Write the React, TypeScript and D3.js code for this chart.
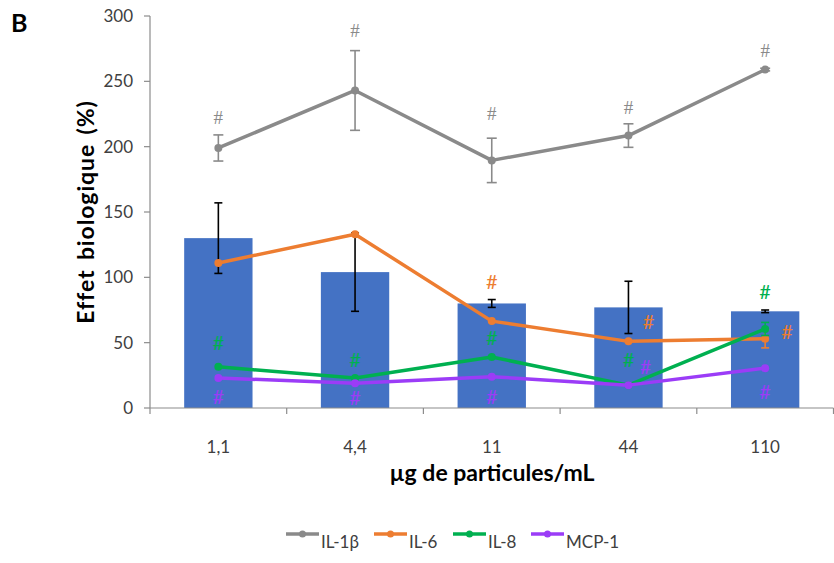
import React from "react";
import * as d3 from "d3";

const categories = ["1,1", "4,4", "11", "44", "110"];
const barValues = [130, 104, 80, 77, 74];
const barErrors = [27, 30, 3, 20, 1];

const seriesNames = ["IL-1β", "IL-6", "IL-8", "MCP-1"];
const seriesColors = ["#8a8a8a", "#ED7D31", "#00B050", "#9B3CF7"];
const il1bValues = [199, 243, 189.5, 208.5, 259];
const il1bErrors = [10, 30.5, 17, 9, 1];
const il6Values = [111, 133, 66.5, 51, 53];
const il6Errors = [0, 0, 0, 0, 7];
const il8Values = [31.5, 23, 39, 17.5, 60.5];
const il8Errors = [0, 0, 0, 0, 5];
const mcp1Values = [23, 19, 24, 17.5, 30.5];
const mcp1Errors = [0, 0, 0, 0, 0];

const yTicks = [0, 50, 100, 150, 200, 250, 300];

// significance marks: series index, category index, vertical value position, horizontal shift (px)
const hashSeries = [0, 0, 0, 0, 0, 1, 1, 1, 2, 2, 2, 2, 2, 3, 3, 3, 3, 3];
const hashCat = [0, 1, 2, 3, 4, 2, 3, 4, 0, 1, 2, 3, 4, 0, 1, 2, 3, 4];
const hashValue = [222.8, 289, 225.5, 230, 274, 96.6, 66, 58.4, 49.7, 36.7, 53.6, 36.7, 89, 8.6, 7.7, 8.6, 31.6, 12.5];
const hashShift = [0, 0, 0, 0, 0, 0, 20, 22, 0, 0, 0, 0, 0, 0, 0, 0, 17, 0];

const W = 834;
const H = 563;
const FONT = "Lato, 'Open Sans', sans-serif";

export default function App() {
  const x = d3
    .scaleBand<string>()
    .domain(categories)
    .range([150, 833.5])
    .paddingInner(0.5)
    .paddingOuter(0.25);
  const y = d3.scaleLinear().domain([0, 300]).range([408, 16]);
  const cx = (i: number) => (x(categories[i]) as number) + x.bandwidth() / 2;
  const step = x.step();
  const boundaries = d3.range(categories.length + 1).map((k) => 150 + k * step);

  const series = [
    { values: il1bValues, errors: il1bErrors },
    { values: il6Values, errors: il6Errors },
    { values: il8Values, errors: il8Errors },
    { values: mcp1Values, errors: mcp1Errors },
  ];
  const line = d3
    .line<number>()
    .x((_, i) => cx(i))
    .y((v) => y(v));

  const axisColor = "#8c8c8c";

  return (
    <svg
      width={W}
      height={H}
      style={{ position: "absolute", left: 0, top: 0, background: "#fff" }}
      fontFamily={FONT}
    >
      <rect width={W} height={H} fill="#fff" />
      <text x={11} y={32} fontSize={25} fontWeight="bold" fill="#000">
        B
      </text>

      {/* bars */}
      {barValues.map((v, i) => (
        <rect
          key={"b" + i}
          x={x(categories[i])}
          y={y(v)}
          width={x.bandwidth()}
          height={y(0) - y(v)}
          fill="#4472C4"
        />
      ))}
      {barValues.map((v, i) => {
        const e = barErrors[i];
        const c = cx(i);
        return (
          <g key={"be" + i} stroke="#000" strokeWidth={1.6}>
            <line x1={c} x2={c} y1={y(v + e)} y2={y(v - e)} />
            <line x1={c - 4} x2={c + 4} y1={y(v + e)} y2={y(v + e)} />
            <line x1={c - 4} x2={c + 4} y1={y(v - e)} y2={y(v - e)} />
          </g>
        );
      })}

      {/* axes */}
      <line x1={150} x2={150} y1={y(300)} y2={y(0)} stroke={axisColor} strokeWidth={1.2} />
      {yTicks.map((t) => (
        <g key={"yt" + t}>
          <line x1={144} x2={150} y1={y(t)} y2={y(t)} stroke={axisColor} strokeWidth={1.2} />
          <text
            x={133}
            y={y(t)}
            dy="0.35em"
            textAnchor="end"
            fontSize={17}
            fill="#404040"
          >
            {t}
          </text>
        </g>
      ))}
      <line x1={150} x2={833.5} y1={y(0)} y2={y(0)} stroke={axisColor} strokeWidth={1.2} />
      {boundaries.map((b, k) => (
        <line key={"xt" + k} x1={b} x2={b} y1={y(0)} y2={y(0) + 6} stroke={axisColor} strokeWidth={1.2} />
      ))}
      {categories.map((c, i) => (
        <text key={"xl" + i} x={cx(i)} y={453} textAnchor="middle" fontSize={17} fill="#404040">
          {c}
        </text>
      ))}
      <text x={492} y={481} textAnchor="middle" fontSize={23} fontWeight="bold" fill="#000">
        µg de particules/mL
      </text>
      <text
        transform={`translate(94,212) rotate(-90)`}
        textAnchor="middle"
        fontSize={23}
        letterSpacing={0.9}
        wordSpacing={3}
        fontWeight="bold"
        fill="#000"
      >
        Effet biologique (%)
      </text>

      {/* lines */}
      {series.map((s, si) => {
        const col = seriesColors[si];
        const cap = si === 0 ? 5 : 4;
        return (
          <g key={"s" + si}>
            {s.values.map((v, i) => {
              const e = s.errors[i];
              if (!e) return null;
              const c = cx(i);
              return (
                <g key={"e" + i} stroke={col} strokeWidth={1.6}>
                  <line x1={c} x2={c} y1={y(v + e)} y2={y(v - e)} />
                  <line x1={c - cap} x2={c + cap} y1={y(v + e)} y2={y(v + e)} />
                  <line x1={c - cap} x2={c + cap} y1={y(v - e)} y2={y(v - e)} />
                </g>
              );
            })}
            <path d={line(s.values) as string} fill="none" stroke={col} strokeWidth={3.5} strokeLinejoin="round" />
            {s.values.map((v, i) => (
              <circle key={"m" + i} cx={cx(i)} cy={y(v)} r={4} fill={col} />
            ))}
          </g>
        );
      })}

      {/* significance marks */}
      {hashValue.map((v, k) => {
        const si = hashSeries[k];
        const gray = si === 0;
        return (
          <text
            key={"h" + k}
            x={cx(hashCat[k]) + hashShift[k]}
            y={y(v)}
            dy="0.35em"
            textAnchor="middle"
            fontSize={gray ? 19 : 20}
            fontFamily={gray ? "'Liberation Serif', serif" : FONT}
            fill={seriesColors[si]}
          >
            #
          </text>
        );
      })}

      {/* legend */}
      {seriesNames.map((n, i) => {
        const starts = [286, 374, 453, 531];
        const lx = starts[i];
        return (
          <g key={"lg" + i}>
            <line x1={lx} x2={lx + 33} y1={534} y2={534} stroke={seriesColors[i]} strokeWidth={3.5} />
            <circle cx={lx + 16.5} cy={534} r={3.5} fill={seriesColors[i]} />
            <text x={lx + 35} y={548} fontSize={17} fill="#404040">
              {n}
            </text>
          </g>
        );
      })}
    </svg>
  );
}
